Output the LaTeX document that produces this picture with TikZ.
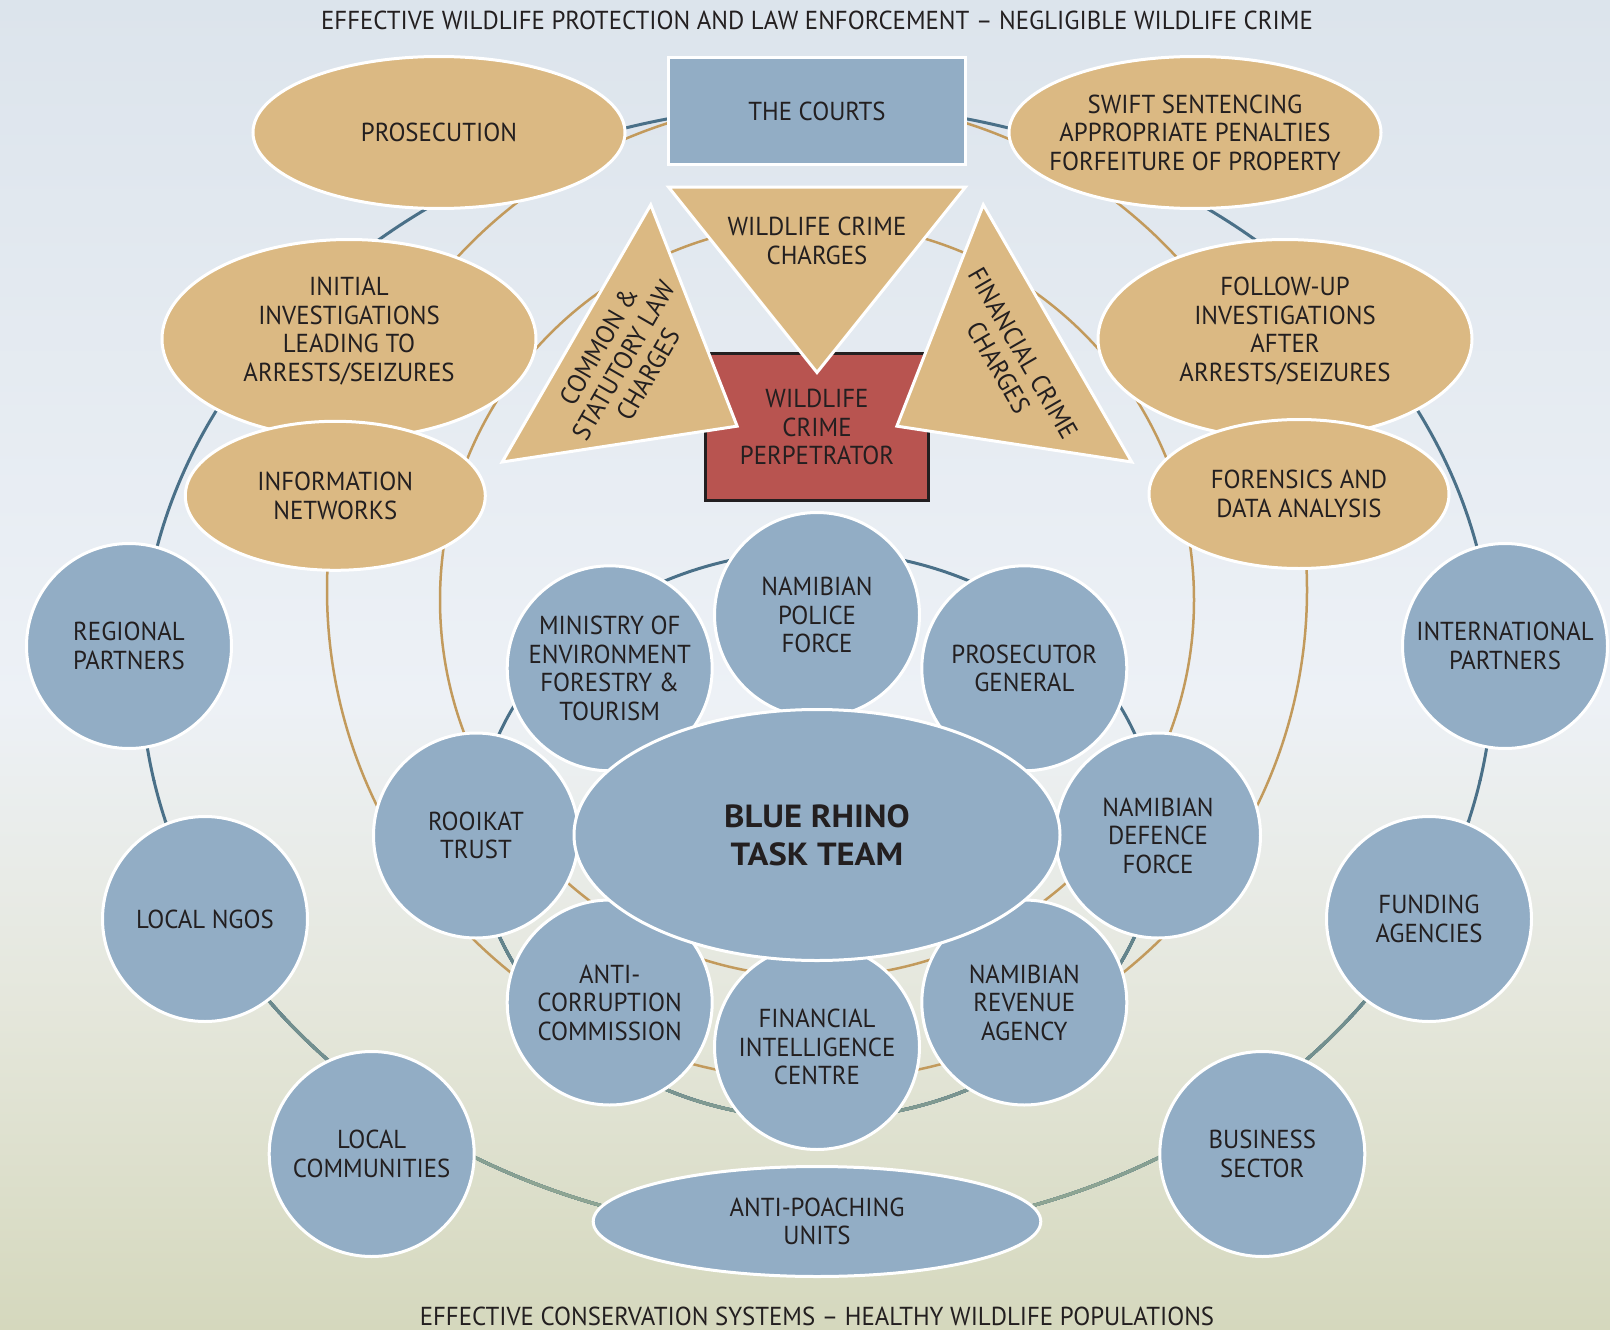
\documentclass[tikz,border=0pt]{standalone}
\usepackage{fontspec}
\setmainfont{PT Sans}[FakeStretch=0.955]
\newfontfamily\rhinofont{PT Sans}[FakeStretch=1.08]
\usetikzlibrary{shapes.geometric}
\definecolor{tanfill}{HTML}{DBB983}
\definecolor{bluefill}{HTML}{92ADC5}
\definecolor{redfill}{HTML}{B85450}
\definecolor{ink}{HTML}{231F20}
\definecolor{ringblue}{HTML}{4A7088}
\definecolor{ringgreen}{HTML}{8EA593}
\definecolor{gold}{HTML}{C29A5C}
\definecolor{bgtop}{HTML}{DCE4EC}
\definecolor{bgmid}{HTML}{EDF1F6}
\definecolor{bglow}{HTML}{E5E7DC}
\definecolor{bgbot}{HTML}{D5D8BD}
\begin{document}
\begin{tikzpicture}[x=1pt,y=-1pt,
  lbl/.style={text=ink, align=center, font=\fontsize{26}{28.5}\selectfont},
  tanell/.style={ellipse, fill=tanfill, draw=white, line width=3pt, lbl, inner sep=-40pt},
  bluecirc/.style={circle, fill=bluefill, draw=white, line width=3pt, lbl, minimum size=205pt, inner sep=-20pt},
  blueell/.style={ellipse, fill=bluefill, draw=white, line width=3pt, lbl, inner sep=-40pt},
  tri/.style={fill=tanfill, draw=white, line width=3pt, line join=miter},
  ringline/.style={line width=3pt},
  goldline/.style={draw=gold, line width=2.5pt}
]
\useasboundingbox (0,0) rectangle (1610,1330);
% background
\shade[top color=bgtop, bottom color=bgmid] (0,0) rectangle (1610,701);
\shade[top color=bgmid, bottom color=bglow] (0,700) rectangle (1610,1001);
\shade[top color=bglow, bottom color=bgbot] (0,1000) rectangle (1610,1330);

% blue rings (colour fades to grey-green towards the bottom)
\begin{scope}
  \clip (0,0) rectangle (1610,780);
  \draw[ringline, draw=ringblue] (817,670) ellipse[x radius=676, y radius=565];
  \draw[ringline, draw=ringblue] (817,835) ellipse[x radius=340, y radius=284];
\end{scope}
\foreach \i in {0,...,10}{
  \pgfmathtruncatemacro\pc{10*\i}
  \begin{scope}
    \clip (0,{780+40*\i}) rectangle (1610,1330);
    \draw[ringline, draw=ringgreen!\pc!ringblue] (817,670) ellipse[x radius=676, y radius=565];
    \draw[ringline, draw=ringgreen!\pc!ringblue] (817,835) ellipse[x radius=340, y radius=284];
  \end{scope}
}
% gold rings
\draw[goldline] (817,590) circle[radius=490];
\draw[goldline] (817,600) circle[radius=377];

% titles
\node[lbl] (toptitle) at (817,20.5) {EFFECTIVE WILDLIFE PROTECTION AND LAW ENFORCEMENT – NEGLIGIBLE WILDLIFE CRIME};
\node[lbl] (bottitle) at (817,1316.5) {EFFECTIVE CONSERVATION SYSTEMS – HEALTHY WILDLIFE POPULATIONS};

% upper (law enforcement) nodes
\node[rectangle, fill=bluefill, draw=white, line width=3pt, minimum width=297pt, minimum height=107pt, lbl] (courts) at (817,111) {THE COURTS};
\node[tanell, minimum width=372pt, minimum height=152pt] (prosecution) at (439,132.5) {PROSECUTION};
\node[tanell, minimum width=372pt, minimum height=152pt] (swift) at (1195,132.5) {SWIFT SENTENCING\\APPROPRIATE PENALTIES\\FORFEITURE OF PROPERTY};
\node[tanell, minimum width=374pt, minimum height=199pt] (initial) at (349,339) {};
\node[lbl] (initialtxt) at (349,331) {INITIAL\\INVESTIGATIONS\\LEADING TO\\ARRESTS/SEIZURES};
\node[tanell, minimum width=374pt, minimum height=199pt] (followup) at (1285,339) {};
\node[lbl] (followuptxt) at (1285,331) {FOLLOW-UP\\INVESTIGATIONS\\AFTER\\ARRESTS/SEIZURES};
\node[tanell, minimum width=300pt, minimum height=149pt] (info) at (335.3,495.8) {INFORMATION\\NETWORKS};
\node[tanell, minimum width=300pt, minimum height=149pt] (forensics) at (1299,494) {FORENSICS AND\\DATA ANALYSIS};

% perpetrator and charges
\node[rectangle, fill=redfill, draw=ink, line width=3pt, minimum width=222.5pt, minimum height=147pt, lbl] (perp) at (817,427) {WILDLIFE\\CRIME\\PERPETRATOR};
\begin{scope}[shift={(817,248.8)}]
  \path[tri] (-148.5,-61.8) -- (148.5,-61.8) -- (0,123.7) -- cycle;
  \node[lbl] (wcharges) at (0,-7.8) {WILDLIFE CRIME\\CHARGES};
\end{scope}
\begin{scope}[shift={(630,364.3)}, rotate=60]
  \path[tri] (-148.5,-61.8) -- (148.5,-61.8) -- (0,123.7) -- cycle;
  \node[lbl, rotate=60] (lcharges) at (0,-7.8) {COMMON \&\\STATUTORY LAW\\CHARGES};
\end{scope}
\begin{scope}[shift={(1004,364.3)}, rotate=-60]
  \path[tri] (-148.5,-61.8) -- (148.5,-61.8) -- (0,123.7) -- cycle;
  \node[lbl, rotate=-60] (fcharges) at (0,-7.8) {FINANCIAL CRIME\\CHARGES};
\end{scope}

% outer partner circles
\node[bluecirc] (regional) at (129,646) {REGIONAL\\PARTNERS};
\node[bluecirc] (international) at (1505,646) {INTERNATIONAL\\PARTNERS};
\node[bluecirc] (ngos) at (205,919) {LOCAL NGOS};
\node[bluecirc] (funding) at (1429,919) {FUNDING\\AGENCIES};
\node[bluecirc] (communities) at (371.7,1154) {LOCAL\\COMMUNITIES};
\node[bluecirc] (business) at (1262.3,1154) {BUSINESS\\SECTOR};
\node[blueell, minimum width=447.6pt, minimum height=110pt] (apu) at (817,1221.5) {ANTI-POACHING\\UNITS};

% task team members
\node[bluecirc] (police) at (817,615) {NAMIBIAN\\POLICE\\FORCE};
\node[bluecirc] (ministry) at (609.7,668.3) {MINISTRY OF\\ENVIRONMENT\\FORESTRY \&\\TOURISM};
\node[bluecirc] (progen) at (1024.3,668.3) {PROSECUTOR\\GENERAL};
\node[bluecirc] (rooikat) at (476,835.5) {ROOIKAT\\TRUST};
\node[bluecirc] (defence) at (1158,835.5) {NAMIBIAN\\DEFENCE\\FORCE};
\node[bluecirc] (acc) at (609.7,1002.5) {ANTI-\\CORRUPTION\\COMMISSION};
\node[bluecirc] (revenue) at (1024.3,1002.5) {NAMIBIAN\\REVENUE\\AGENCY};
\node[bluecirc] (fic) at (817,1047) {FINANCIAL\\INTELLIGENCE\\CENTRE};
\node[blueell, minimum width=486pt, minimum height=251pt, font=\rhinofont\bfseries\fontsize{32}{37.7}\selectfont] (brtt) at (817,835) {BLUE RHINO\\TASK TEAM};
\end{tikzpicture}
\end{document}
